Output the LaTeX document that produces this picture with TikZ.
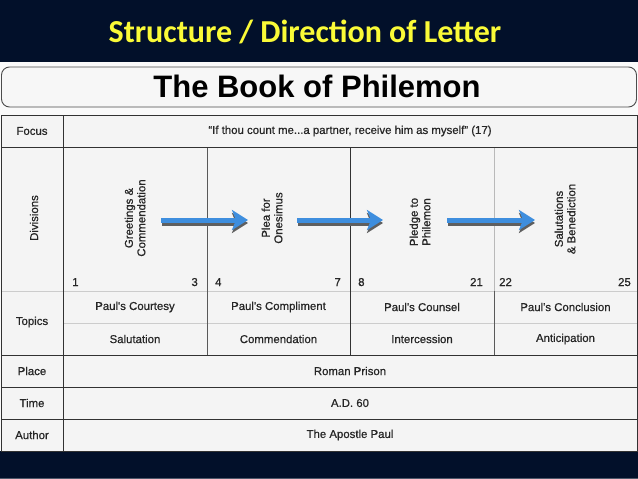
\documentclass[tikz,border=0pt]{standalone}
\usepackage{fontspec}
\setmainfont{Liberation Sans}
\newfontfamily\slidefont{Carlito}
\newfontfamily\cellfont{Liberation Sans}[FakeBold=0.7]
\usetikzlibrary{arrows.meta}
\definecolor{navy}{RGB}{2,16,42}
\definecolor{ttlyellow}{RGB}{250,250,55}
\definecolor{cellbg}{RGB}{244,244,244}
\definecolor{pagebg}{RGB}{250,250,250}
\definecolor{arrowblue}{RGB}{62,142,222}
\definecolor{rulegray}{RGB}{50,50,50}
\definecolor{shadegray}{RGB}{95,95,95}
\begin{document}
\begin{tikzpicture}[x=1pt,y=-1pt]
\tikzset{
  tbl/.style={font=\cellfont\fontsize{11.4}{12.5}\selectfont, text=black!85, inner sep=0pt},
  vtxt/.style={tbl, rotate=90, align=center},
  flow/.style={line width=5pt, draw=arrowblue, -{Stealth[length=16pt,width=20pt,inset=4pt]}},
  flowshade/.style={line width=5pt, draw=shadegray, -{Stealth[length=16pt,width=20pt,inset=4pt]}},
  rule/.style={draw=rulegray, line width=0.9pt},
  faint/.style={draw=gray!40, line width=0.8pt},
  midrule/.style={draw=gray!70!black, line width=0.8pt},
}
\useasboundingbox (0,0) rectangle (638,479);
\fill[pagebg] (0,0) rectangle (638,479);
% dark bands
\fill[navy] (0,0) rectangle (638,62);
\fill[navy] (0,451) rectangle (638,479);
\draw[draw=navy!70!white, line width=0.8pt] (0,478) -- (638,478);
\node[font=\slidefont\bfseries\fontsize{32}{36}\selectfont, text=ttlyellow, anchor=base, inner sep=0pt] (slidetitle) at (305,42) {Structure / Direction of Letter};
% title box
\node[draw=gray!60!black, line width=0.9pt, fill=white!97!black, rounded corners=8pt, minimum width=635pt, minimum height=40pt, inner sep=0pt] (bookbox) at (319,87) {};
\node[font=\bfseries\fontsize{31}{34}\selectfont, anchor=base, inner sep=0pt] (booktitle) at (317,97) {The Book of Philemon};
% table background and rules
\fill[cellbg] (1,115) rectangle (637.5,451);
\draw[faint] (1,291) -- (637.5,291);
\draw[faint] (63,323) -- (637.5,323);
\draw[midrule] (207,147) -- (207,355);
\draw[rule] (350,147) -- (350,355);
\draw[draw=gray!55, line width=0.8pt] (494,147) -- (494,291);
\draw[midrule] (494,291) -- (494,355);
\draw[rule] (1,147) -- (637.5,147);
\draw[rule] (1,355) -- (637.5,355);
\draw[rule] (1,387) -- (637.5,387);
\draw[rule] (1,419) -- (637.5,419);
\draw[rule] (63,115) -- (63,451);
\draw[rule] (1,115) rectangle (637.5,451);
% label column
\node[tbl] (focus) at (32,131) {Focus};
\node[tbl, rotate=90] (divisions) at (34,218) {Divisions};
\node[tbl] (topics) at (32,322) {Topics};
\node[tbl] (place) at (32,371) {Place};
\node[tbl] (time) at (32,403) {Time};
\node[tbl] (author) at (32,435) {Author};
% focus
\node[tbl] (quote) at (350,131) {“If thou count me...a partner, receive him as myself” (17)};
% divisions
\node[vtxt] (greet) at (135,218) {Greetings \&\\Commendation};
\node[vtxt] (plea) at (272,218) {Plea for\\Onesimus};
\node[vtxt] (pledge) at (420,222) {Pledge to\\Philemon};
\node[vtxt] (salut) at (565,219) {Salutations\\\& Benediction};
% verse numbers
\node[tbl, anchor=base west] (v1) at (72,286) {1};
\node[tbl, anchor=base east] (v3) at (198,286) {3};
\node[tbl, anchor=base west] (v4) at (215,286) {4};
\node[tbl, anchor=base east] (v7) at (341,286) {7};
\node[tbl, anchor=base west] (v8) at (358,286) {8};
\node[tbl, anchor=base east] (v21) at (483,286) {21};
\node[tbl, anchor=base west] (v22) at (499,286) {22};
\node[tbl, anchor=base east] (v25) at (631,286) {25};
% arrows
\coordinate (a1s) at (161,220);
\coordinate (a1e) at (248,220);
\coordinate (a2s) at (297,220);
\coordinate (a2e) at (383,220);
\coordinate (a3s) at (447,220);
\coordinate (a3e) at (535,220);
\coordinate (s1s) at (162,223);
\coordinate (s1e) at (248,223);
\coordinate (s2s) at (298,223);
\coordinate (s2e) at (383,223);
\coordinate (s3s) at (448,223);
\coordinate (s3e) at (535,223);
\draw[flowshade] (s1s) -- (s1e);
\draw[flowshade] (s2s) -- (s2e);
\draw[flowshade] (s3s) -- (s3e);
\draw[flow] (a1s) -- (a1e);
\draw[flow] (a2s) -- (a2e);
\draw[flow] (a3s) -- (a3e);
% topics
\node[tbl] (t1) at (135,307) {Paul's Courtesy};
\node[tbl] (t2) at (278.5,307) {Paul's Compliment};
\node[tbl] (t3) at (422,307) {Paul's Counsel};
\node[tbl] (t4) at (565.5,307) {Paul's Conclusion};
\node[tbl] (u1) at (135,339) {Salutation};
\node[tbl] (u2) at (278.5,339) {Commendation};
\node[tbl] (u3) at (422,339) {Intercession};
\node[tbl] (u4) at (565.5,339) {Anticipation};
% place, time, author
\node[tbl] (roman) at (350,371) {Roman Prison};
\node[tbl] (ad) at (350,403) {A.D. 60};
\node[tbl] (apostle) at (350,435) {The Apostle Paul};
\end{tikzpicture}
\end{document}
